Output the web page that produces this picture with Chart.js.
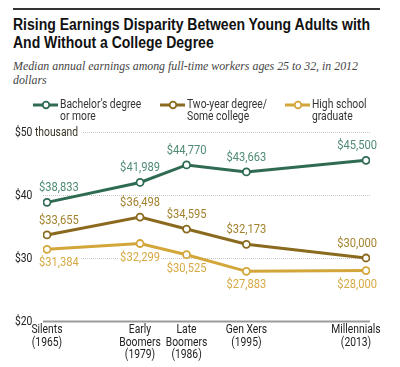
<!DOCTYPE html>
<html>
<head>
<meta charset="utf-8">
<script src="https://cdn.jsdelivr.net/npm/chart.js@4"></script>
<style>
  body { margin: 0; background: #fff; }
  #wrap { position: relative; width: 400px; height: 367px; overflow: hidden; }
  #rule { position: absolute; left: 13px; top: 8px; width: 367px; height: 0; border-top: 2px solid #333; }
  #title { position: absolute; left: 13px; top: 16px; font: bold 16px "Liberation Sans", sans-serif; line-height: 18px; color: #111; white-space: nowrap; }
  #subtitle { position: absolute; left: 13px; top: 59px; font: italic 12px "Liberation Serif", serif; line-height: 14px; color: #444; white-space: nowrap; }
  #title div, #subtitle div { transform-origin: 0 0; }
  canvas { position: absolute; left: 0; top: 0; }
</style>
</head>
<body>
<div id="wrap">
  <div id="rule"></div>
  <div id="title"><div>Rising Earnings Disparity Between Young Adults with</div><div>And Without a College Degree</div></div>
  <div id="subtitle"><div>Median annual earnings among full-time workers ages 25 to 32, in 2012</div><div>dollars</div></div>
  <canvas id="chart" width="400" height="367"></canvas>
</div>
<script>
const years = [1965, 1979, 1986, 1995, 2013]
const genLabels = [
    ['Silents', '(1965)'],
    ['Early', 'Boomers', '(1979)'],
    ['Late', 'Boomers', '(1986)'],
    ['Gen Xers', '(1995)'],
    ['Millennials', '(2013)']
]
const bachelors = [38833, 41989, 44770, 43663, 45500]
const twoYear = [33655, 36498, 34595, 32173, 30000]
const highSchool = [31384, 32299, 30525, 27883, 28000]
const yTicks = [20000, 30000, 40000, 50000]
const yTickLabels = ['$20', '$30', '$40', '$50']

// squeeze title lines to reference widths
function fitLine(el, width) {
    const w = el.getBoundingClientRect().width
    el.style.transform = 'scaleX(' + (width / w) + ')'
}
const tl = document.querySelectorAll('#title div')
fitLine(tl[0], 357)
const sl = document.querySelectorAll('#subtitle div')
fitLine(sl[0], 345)
tl[1].style.transform = tl[0].style.transform
sl[1].style.transform = sl[0].style.transform

const font = '12px "Roboto", "Liberation Sans", sans-serif'
const green = '#2e6b52', brown = '#8a6a1e', gold = '#d3a63a'
const greenText = '#4f8b73', brownText = '#a3822f', goldText = '#d6aa45'
const narrow = 0.86   // axis + legend text squeeze
const numNarrow = 0.93 // value label squeeze

function series(label, values, color, textColor, below) {
    return {
        label: label,
        data: years.map((y, i) => ({ x: y, y: values[i] })),
        borderColor: color,
        backgroundColor: '#fff',
        borderWidth: 3,
        pointRadius: 3.5,
        pointHoverRadius: 3.5,
        pointBorderWidth: 1.8,
        pointBackgroundColor: '#fff',
        tension: 0,
        textColor: textColor,
        below: below
    }
}

const money = v => '$' + v.toLocaleString('en-US')

function text(ctx, s, x, y, align, sx) {
    ctx.save()
    ctx.translate(x, y)
    ctx.scale(sx, 1)
    ctx.textAlign = align
    ctx.fillText(s, 0, 0)
    ctx.restore()
}

const decor = {
    id: 'decor',
    beforeDatasetsDraw(chart) {
        const ctx = chart.ctx
        const xs = chart.scales.x, ys = chart.scales.y
        ctx.save()
        ctx.font = font
        ctx.textBaseline = 'middle'
        // gridlines
        yTicks.forEach((t, i) => {
            const y = Math.round(ys.getPixelForValue(t)) + 0.5
            ctx.beginPath()
            if (t == 20000) {
                ctx.strokeStyle = '#9a9a9a'
                ctx.lineWidth = 2
                ctx.setLineDash([])
                ctx.moveTo(43, y); ctx.lineTo(370, y)
            } else {
                ctx.strokeStyle = '#c8c8c8'
                ctx.lineWidth = 1
                ctx.setLineDash([1, 1])
                ctx.moveTo(t == 50000 ? 83 : 43, y); ctx.lineTo(370, y)
            }
            ctx.stroke()
            ctx.setLineDash([])
            ctx.fillStyle = '#222'
            text(ctx, yTickLabels[i], 15, y, 'left', narrow)
            if (t == 50000) {
                const w = ctx.measureText(yTickLabels[i]).width * narrow
                ctx.fillStyle = '#3a3326'
                text(ctx, ' thousand', 15 + w, y, 'left', narrow)
            }
        })
        // x labels
        ctx.fillStyle = '#222'
        years.forEach((yr, i) => {
            let x = xs.getPixelForValue(yr)
            if (i == years.length - 1) x -= 10
            genLabels[i].forEach((line, j) => text(ctx, line, x, 330 + j * 12.5, 'center', narrow))
        })
        // data labels with white backing
        chart.data.datasets.forEach((ds, di) => {
            const meta = chart.getDatasetMeta(di)
            meta.data.forEach((pt, i) => {
                const s = money(ds.data[i].y)
                const w = ctx.measureText(s).width * numNarrow
                let cx = pt.x
                if (i == 0) cx = pt.x - 8 + w / 2
                if (i == years.length - 1) cx = pt.x + 11 - w / 2
                const cy = ds.below ? pt.y + 14 : pt.y - 14
                ctx.fillStyle = '#fff'
                ctx.fillRect(cx - w / 2 - 1, cy - 6, w + 2, 12)
                ctx.fillStyle = ds.textColor
                text(ctx, s, cx, cy, 'center', numNarrow)
            })
        })
        // legend
        const items = [
            { x: 33, color: green, lines: ["Bachelor's degree", 'or more'] },
            { x: 160, color: brown, lines: ['Two-year degree/', 'Some college'] },
            { x: 285, color: gold, lines: ['High school', 'graduate'] }
        ]
        items.forEach(it => {
            ctx.strokeStyle = it.color
            ctx.lineWidth = 3
            ctx.beginPath(); ctx.moveTo(it.x, 105); ctx.lineTo(it.x + 25, 105); ctx.stroke()
            ctx.fillStyle = '#fff'
            ctx.lineWidth = 1.8
            ctx.beginPath(); ctx.arc(it.x + 13, 105, 3.3, 0, Math.PI * 2); ctx.fill(); ctx.stroke()
            ctx.fillStyle = '#333'
            it.lines.forEach((l, j) => text(ctx, l, it.x + 27, 105 + j * 12, 'left', narrow))
        })
        ctx.restore()
    }
}

const ctx = document.getElementById('chart')

var myChart = new Chart(ctx, {
    type: 'line',
    data: {
        datasets: [
            series("Bachelor's degree or more", bachelors, green, greenText, false),
            series('Two-year degree/Some college', twoYear, brown, brownText, false),
            series('High school graduate', highSchool, gold, goldText, true)
        ]
    },
    options: {
        responsive: false,
        animation: false,
        layout: {
            padding: { left: 43, right: 30, top: 132, bottom: 46 }
        },
        plugins: {
            legend: { display: false },
            tooltip: { enabled: false }
        },
        scales: {
            x: {
                type: 'linear',
                display: false,
                min: 1964.4,
                max: 2013.6
            },
            y: {
                display: false,
                min: 20000,
                max: 50000
            }
        }
    },
    plugins: [decor]
})
</script>
</body>
</html>
